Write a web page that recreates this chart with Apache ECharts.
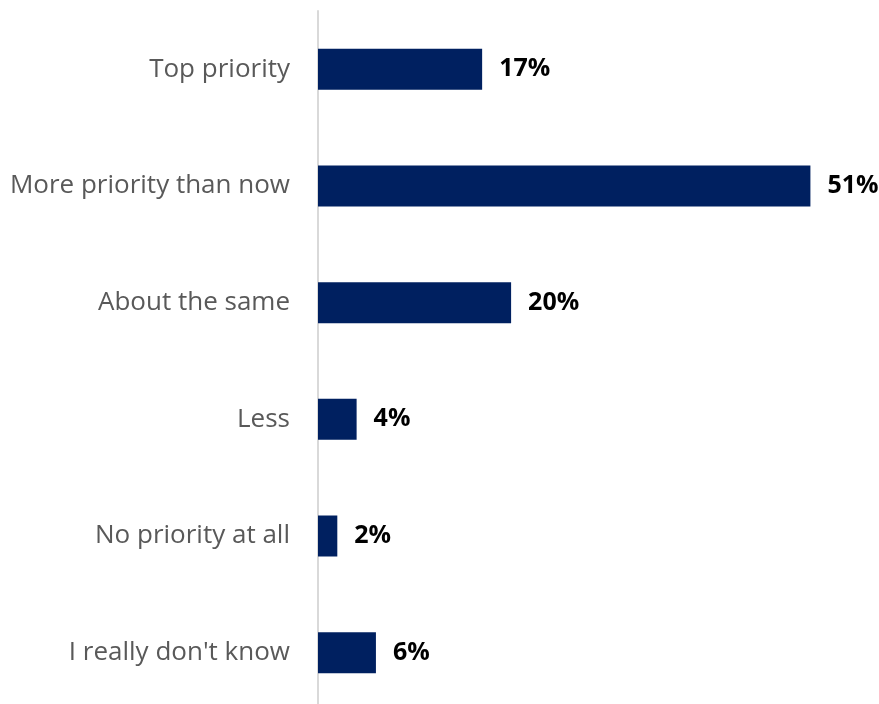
<!DOCTYPE html>
<html>
<head>
<meta charset="utf-8">
<script src="https://cdn.jsdelivr.net/npm/echarts@6/dist/echarts.min.js"></script>
<style>
  html, body { margin: 0; padding: 0; background: #ffffff; }
  #chart { width: 879px; height: 704px; }
</style>
</head>
<body>
<div id="chart"></div>
<script>
const categories = [
  'Top priority',
  'More priority than now',
  'About the same',
  'Less',
  'No priority at all',
  "I really don't know"
];
const shares = [17, 51, 20, 4, 2, 6];

const chart = echarts.init(document.getElementById('chart'), null, { renderer: 'canvas' });
chart.setOption({
  animation: false,
  grid: {
    left: 318, top: 11, width: 560, height: 700,
    containLabel: false,
    outerBoundsMode: 'none'
  },
  xAxis: {
    type: 'value',
    min: 0,
    max: 58,
    show: false
  },
  yAxis: {
    type: 'category',
    data: categories,
    inverse: true,
    axisLine: { show: true, lineStyle: { color: '#d9d9d9', width: 2 } },
    axisTick: { show: false },
    axisLabel: {
      margin: 28,
      fontFamily: 'Open Sans',
      fontSize: 26,
      color: '#595959'
    }
  },
  series: [{
    type: 'bar',
    data: shares,
    barWidth: 41,
    itemStyle: { color: '#002060' },
    label: {
      show: true,
      position: 'right',
      distance: 17,
      formatter: p => p.value + '%',
      fontFamily: 'Open Sans',
      fontWeight: 'bold',
      fontSize: 25,
      color: '#000000'
    }
  }]
});
</script>
</body>
</html>
